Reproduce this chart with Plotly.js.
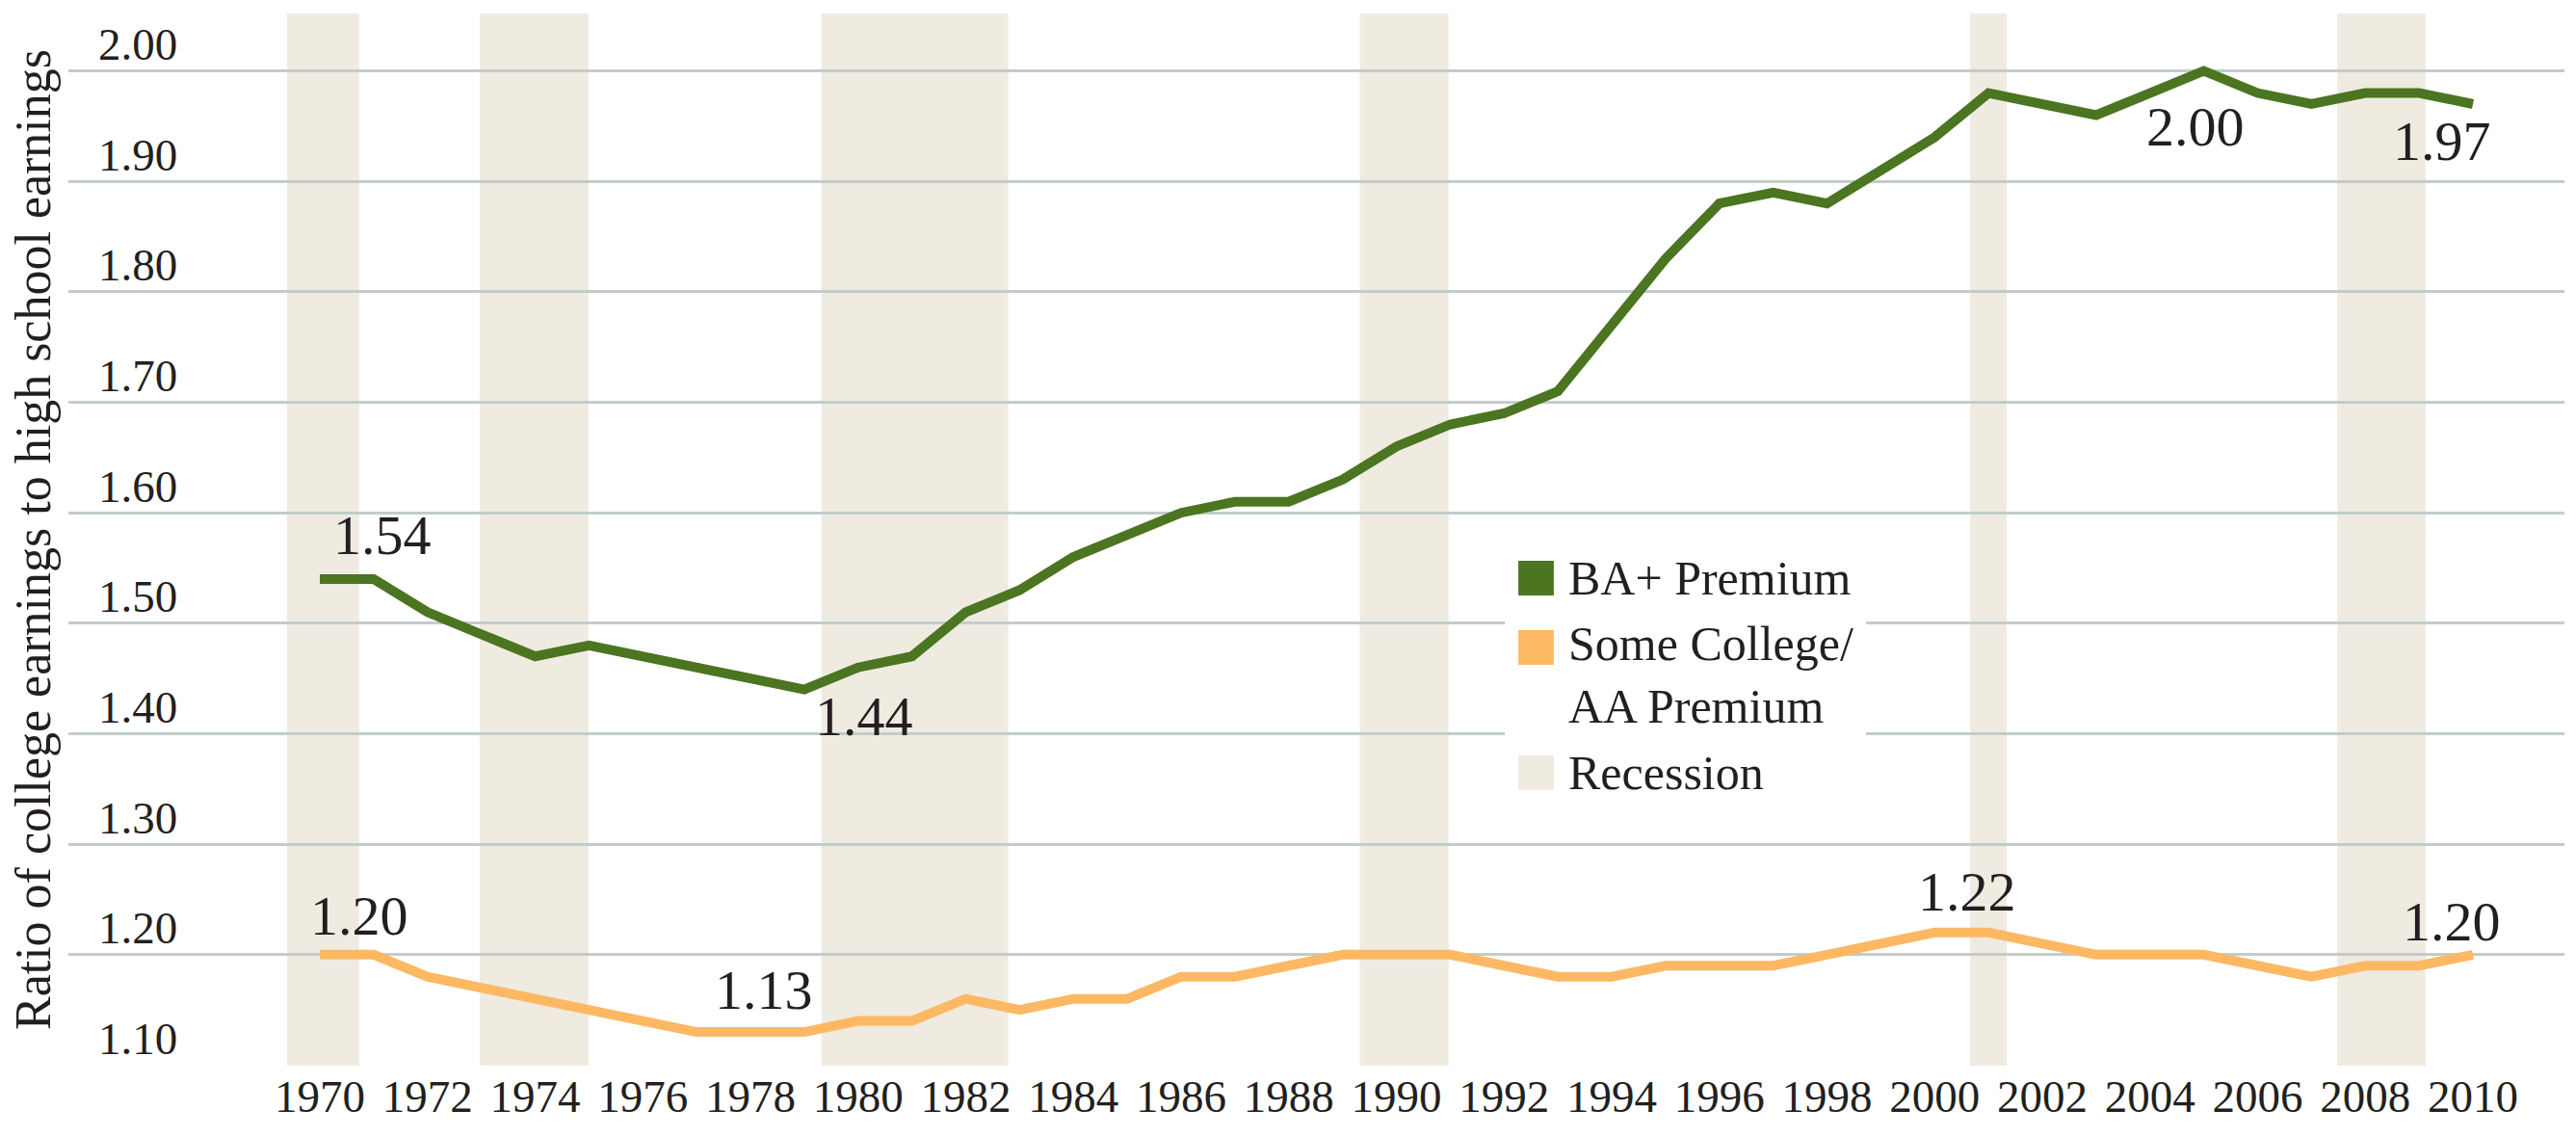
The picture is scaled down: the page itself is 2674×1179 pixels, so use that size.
<!DOCTYPE html>
<html>
<head>
<meta charset="utf-8">
<script src="https://cdn.plot.ly/plotly-3.0.1.min.js"></script>
<style>
  html, body { margin: 0; padding: 0; background: #ffffff; }
  #chart { width: 2674px; height: 1179px; }
</style>
</head>
<body>
<div id="chart"></div>
<script>
// ---------------- DATA ----------------
const years = [1970,1971,1972,1973,1974,1975,1976,1977,1978,1979,
               1980,1981,1982,1983,1984,1985,1986,1987,1988,1989,
               1990,1991,1992,1993,1994,1995,1996,1997,1998,1999,
               2000,2001,2002,2003,2004,2005,2006,2007,2008,2009,2010];

const baPremium = [1.54,1.54,1.51,1.49,1.47,1.48,1.47,1.46,1.45,1.44,
                   1.46,1.47,1.51,1.53,1.56,1.58,1.60,1.61,1.61,1.63,
                   1.66,1.68,1.69,1.71,1.77,1.83,1.88,1.89,1.88,1.91,
                   1.94,1.98,1.97,1.96,1.98,2.00,1.98,1.97,1.98,1.98,1.97];

const someCollegePremium = [1.20,1.20,1.18,1.17,1.16,1.15,1.14,1.13,1.13,1.13,
                            1.14,1.14,1.16,1.15,1.16,1.16,1.18,1.18,1.19,1.20,
                            1.20,1.20,1.19,1.18,1.18,1.19,1.19,1.19,1.20,1.21,
                            1.22,1.22,1.21,1.20,1.20,1.20,1.19,1.18,1.19,1.19,1.20];

const recessionStart = [1969.39, 1972.97, 1979.32, 1989.32, 2000.66, 2007.48];
const recessionEnd   = [1970.73, 1974.99, 1982.79, 1990.97, 2001.34, 2009.12];

const xTickYears = [1970,1972,1974,1976,1978,1980,1982,1984,1986,1988,1990,
                    1992,1994,1996,1998,2000,2002,2004,2006,2008,2010];
const yTickValues = [1.10,1.20,1.30,1.40,1.50,1.60,1.70,1.80,1.90,2.00];

const seriesNames = ["BA+ Premium", "Some College/<br>AA Premium", "Recession"];

// years whose values are called out on each line
const baCalloutYears = [1970, 1979, 2005, 2010];
const scCalloutYears = [1970, 1978, 2000, 2010];

// ---------------- STYLE ----------------
const GREEN = "#4b7520";
const ORANGE = "#fdb863";
const RECESSION = "#efebe1";
const GRID = "#c2cccb";
const TEXT = "#231f20";
const FONT = "Liberation Serif";

// pixel offsets of the callout labels from their points
const baCalloutShift = [[65, 45], [62, -28], [-9, -58], [-32, -38]];
const scCalloutShift = [[41, 40], [14, 44], [34, 42], [-22, 34]];

const traces = [
  {
    x: years, y: baPremium, type: "scatter", mode: "lines",
    name: "BA+ Premium", showlegend: false, hoverinfo: "x+y",
    line: { color: GREEN, width: 10 }
  },
  {
    x: years, y: someCollegePremium, type: "scatter", mode: "lines",
    name: "Some College/AA Premium", showlegend: false, hoverinfo: "x+y",
    line: { color: ORANGE, width: 10 }
  }
];

const shapes = recessionStart.map((s, i) => ({
  type: "rect", xref: "x", yref: "paper",
  x0: s, x1: recessionEnd[i], y0: 0, y1: 1,
  fillcolor: RECESSION, line: { width: 0 }, layer: "below"
}));

// legend (drawn by hand so the swatches can be large squares)
shapes.push({
  type: "rect", xref: "paper", yref: "paper",
  x0: 0.5755, x1: 0.7202, y0: 0.2344, y1: 0.50,
  fillcolor: "#ffffff", line: { width: 0 }, layer: "above"
});
const swatchColors = [GREEN, ORANGE, RECESSION];
const swatchY = [[0.4469, 0.4799], [0.3810, 0.4139], [0.2619, 0.2949]];
swatchY.forEach((yy, i) => {
  shapes.push({
    type: "rect", xref: "paper", yref: "paper",
    x0: 0.5809, x1: 0.5951, y0: yy[0], y1: yy[1],
    fillcolor: swatchColors[i], line: { width: 0 }, layer: "above"
  });
});

const annotations = [];
const legendTextY = [0.4634, 0.3709, 0.2784];
seriesNames.forEach((n, i) => {
  annotations.push({
    xref: "paper", yref: "paper", x: 0.6001, y: legendTextY[i],
    xanchor: "left", yanchor: "middle", align: "left",
    text: n, showarrow: false,
    font: { family: FONT, size: 50, color: TEXT }
  });
});

function addCallouts(callYears, values, shifts) {
  callYears.forEach((yr, i) => {
    const idx = years.indexOf(yr);
    const v = values[idx];
    annotations.push({
      x: yr, y: v, xref: "x", yref: "y",
      text: v.toFixed(2), showarrow: false,
      xanchor: "center", yanchor: "middle",
      xshift: shifts[i][0], yshift: shifts[i][1],
      font: { family: FONT, size: 58, color: TEXT }
    });
  });
}
addCallouts(baCalloutYears, baPremium, baCalloutShift);
addCallouts(scCalloutYears, someCollegePremium, scCalloutShift);

const layout = {
  width: 2674, height: 1179,
  margin: { l: 71, r: 12, t: 14, b: 73, pad: 0 },
  paper_bgcolor: "#ffffff", plot_bgcolor: "#ffffff",
  showlegend: false,
  xaxis: {
    range: [1965.329, 2011.70],
    tickmode: "array", tickvals: xTickYears, ticktext: xTickYears.map(String),
    showgrid: false, zeroline: false, showline: false, ticks: "",
    ticklabelstandoff: 0,
    tickfont: { family: FONT, size: 47, color: TEXT },
    fixedrange: true
  },
  yaxis: {
    range: [1.0995, 2.052],
    tickmode: "array", tickvals: yTickValues, ticktext: yTickValues.map(v => v.toFixed(2)),
    showgrid: true, gridcolor: GRID, gridwidth: 3,
    zeroline: false, showline: false, ticks: "",
    ticklabelposition: "inside top",
    ticklabelstandoff: 28,
    ticklabelshift: 5,
    tickfont: { family: FONT, size: 47, color: TEXT },
    title: {
      text: "Ratio of college earnings to high school earnings",
      font: { family: FONT, size: 52, color: TEXT },
      standoff: 32
    },
    automargin: false,
    fixedrange: true
  },
  shapes: shapes,
  annotations: annotations
};

Plotly.newPlot("chart", traces, layout, { displayModeBar: false }).then(() => {
  // touch the computed styles and trigger a relayout so the serif face is applied
  document.querySelectorAll("#chart text").forEach(t => getComputedStyle(t).fontFamily);
  const d = document.createElement("div");
  d.style.cssText = "position:absolute;right:0;bottom:0;width:1px;height:1px;overflow:hidden;font:1px monospace;color:#ffffff";
  d.textContent = "\u00a0";
  document.body.appendChild(d);
  void document.body.offsetHeight;
});
</script>
</body>
</html>
